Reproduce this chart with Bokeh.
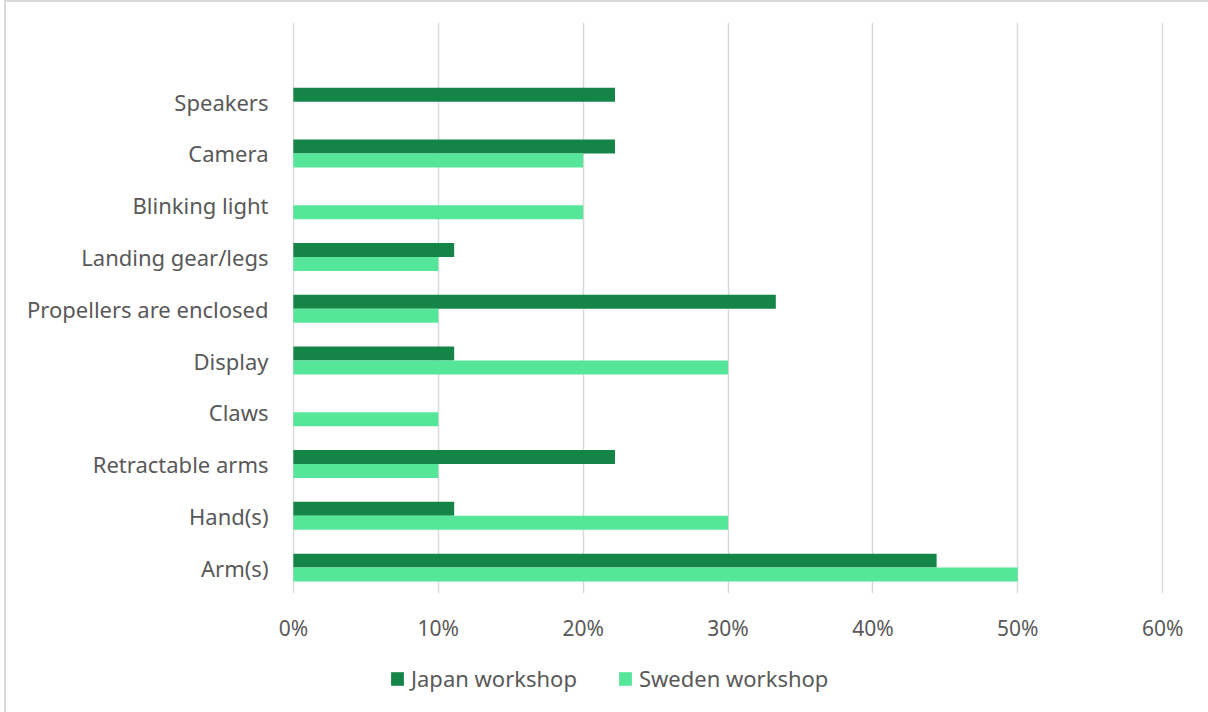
from bokeh.plotting import figure
from bokeh.layouts import column
from bokeh.models import (ColumnDataSource, Range1d, FixedTicker, Legend, LegendItem,
                          NumeralTickFormatter)
from bokeh.embed import file_html
from bokeh.resources import INLINE

categories = ["Arm(s)", "Hand(s)", "Retractable arms", "Claws", "Display",
              "Propellers are enclosed", "Landing gear/legs", "Blinking light",
              "Camera", "Speakers"]
japan = [0.444, 0.111, 0.222, 0.0, 0.111, 0.333, 0.111, 0.0, 0.222, 0.222]
sweden = [0.50, 0.30, 0.10, 0.10, 0.30, 0.10, 0.10, 0.20, 0.20, 0.0]
x_ticks = [0, 0.1, 0.2, 0.3, 0.4, 0.5, 0.6]
series_names = ["Japan workshop", "Sweden workshop"]

JAPAN_COLOR = "#148447"
SWEDEN_COLOR = "#55E69A"
TEXT_COLOR = "#595959"
GRID_COLOR = "#d9d9d9"
FONT = "Noto Sans"

pos = list(range(len(categories)))
bar_h = 0.27
src = ColumnDataSource(dict(
    y=pos,
    yj=[p_ + bar_h / 2 for p_ in pos],
    ys=[p_ - bar_h / 2 for p_ in pos],
    japan=japan, sweden=sweden,
))

p = figure(width=1202, height=650, output_backend="svg", toolbar_location=None,
           x_range=Range1d(-0.0006, 0.6006), y_range=Range1d(-0.5, 10.53),
           min_border_left=286, min_border_right=45, min_border_top=20,
           min_border_bottom=59)
p.outline_line_color = None
p.background_fill_color = "white"
p.border_fill_color = "white"

p.hbar(y="yj", left=0, right="japan", height=bar_h, source=src,
       fill_color=JAPAN_COLOR, line_color=None)
p.hbar(y="ys", left=0, right="sweden", height=bar_h, source=src,
       fill_color=SWEDEN_COLOR, line_color=None)

# axes
p.xaxis.ticker = FixedTicker(ticks=x_ticks)
p.xaxis.formatter = NumeralTickFormatter(format="0%")
p.xaxis.axis_line_color = None
p.xaxis.major_tick_line_color = None
p.xaxis.minor_tick_line_color = None
p.xaxis.major_label_text_font = FONT
p.xaxis.major_label_text_font_size = "21px"
p.xaxis.major_label_text_color = TEXT_COLOR
p.xaxis.major_label_standoff = 14

p.yaxis.ticker = FixedTicker(ticks=pos)
p.yaxis.major_label_overrides = {i: c for i, c in enumerate(categories)}
p.yaxis.axis_line_color = None
p.yaxis.major_tick_line_color = None
p.yaxis.minor_tick_line_color = None
p.yaxis.major_label_text_font = FONT
p.yaxis.major_label_text_font_size = "22px"
p.yaxis.major_label_text_color = TEXT_COLOR
p.yaxis.major_label_standoff = 18

p.xgrid.grid_line_color = GRID_COLOR
p.xgrid.grid_line_width = 1.5
p.ygrid.grid_line_color = None

# legend strip below the chart (its glyph renderers lie outside its visible range)
lg = figure(width=1202, height=60, output_backend="svg", toolbar_location=None,
            x_range=Range1d(10, 11), y_range=Range1d(100, 101),
            x_axis_type=None, y_axis_type=None,
            min_border_left=0, min_border_right=0, min_border_top=0,
            min_border_bottom=0)
lg.outline_line_color = None
lg.grid.visible = False
lj = lg.hbar(y="yj", left=0, right="japan", height=bar_h, source=src,
             fill_color=JAPAN_COLOR, line_color=None)
ls = lg.hbar(y="ys", left=0, right="sweden", height=bar_h, source=src,
             fill_color=SWEDEN_COLOR, line_color=None)
legend = Legend(items=[LegendItem(label=series_names[0], renderers=[lj], index=0),
                       LegendItem(label=series_names[1], renderers=[ls], index=0)],
                orientation="horizontal", location=(97, 19),
                label_text_font=FONT, label_text_font_size="22px",
                label_text_color=TEXT_COLOR, glyph_width=16, glyph_height=17,
                spacing=40, border_line_color=None, background_fill_alpha=0,
                label_standoff=6, padding=0, margin=0)
lg.add_layout(legend, "center")

layout = column(p, lg, spacing=0,
                styles={"margin-left": "4px", "border-left": "2px solid #d9d9d9",
                        "border-top": "2px solid #d9d9d9"})

open("out.html", "w").write(file_html(layout, INLINE))
